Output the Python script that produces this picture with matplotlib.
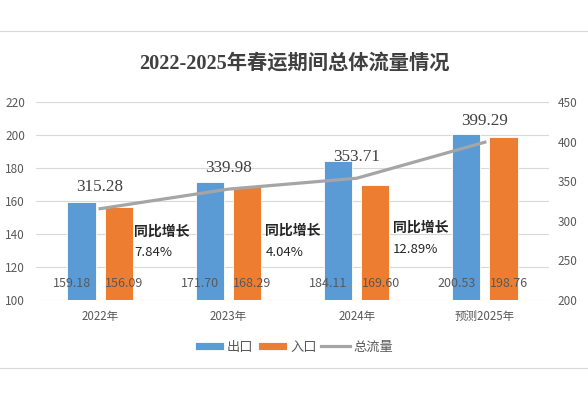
import matplotlib
matplotlib.use('Agg')
import matplotlib.pyplot as plt
import numpy as np
from matplotlib.lines import Line2D

plt.rcParams['font.family'] = ['Noto Sans CJK SC', 'DejaVu Sans']

years = ['2022年', '2023年', '2024年', '预测2025年']
outbound = [159.18, 171.70, 184.11, 200.53]
inbound = [156.09, 168.29, 169.60, 198.76]
total = [315.28, 339.98, 353.71, 399.29]
growth = ['7.84%', '4.04%', '12.89%']

blue = '#5B9BD5'
orange = '#ED7D31'
gray = '#A5A5A5'
text_gray = '#595959'

fig = plt.figure(figsize=(5.88, 4.0), dpi=100)
ax = fig.add_axes([0.0612, 0.25, 0.8725, 0.495])
ax2 = ax.twinx()

x = np.arange(len(years))
w = 0.22
off = 0.145
b1 = ax.bar(x - off, outbound, w, color=blue, edgecolor='white', linewidth=0.6, label='出口', zorder=2)
b2 = ax.bar(x + off, inbound, w, color=orange, edgecolor='white', linewidth=0.6, label='入口', zorder=2)
ln, = ax2.plot(x, total, color=gray, linewidth=2.3, label='总流量', zorder=3)

ax.set_xlim(-0.5, 3.5)
ax.set_ylim(100, 220)
ax.set_yticks(range(100, 221, 20))
ax2.set_ylim(200, 450)
ax2.set_yticks(range(200, 451, 50))
ax.set_xticks(x)
ax.set_xticklabels(years)

for a in (ax, ax2):
    for s in a.spines.values():
        s.set_visible(False)
    a.tick_params(length=0, labelsize=8.5, labelcolor=text_gray)
ax.tick_params(axis='y', pad=8)
ax2.tick_params(axis='y', pad=6)
ax.tick_params(axis='x', labelsize=8.3, pad=7)
ax.yaxis.grid(True, color='#D9D9D9', linewidth=0.8, zorder=0)
ax.set_axisbelow(True)

# bar value labels near the base
for i in range(len(years)):
    ax.annotate(f'{outbound[i]:.2f}', (x[i] - off, 109.7), xytext=(-7, 0), textcoords='offset points',
                ha='center', va='center', fontsize=9, color=text_gray, zorder=4)
    ax.annotate(f'{inbound[i]:.2f}', (x[i] + off, 109.7), xytext=(4, 0), textcoords='offset points',
                ha='center', va='center', fontsize=9, color=text_gray, zorder=4)

# total labels above line points
for i, v in enumerate(total):
    ax2.annotate(f'{v:.2f}', (x[i], v), xytext=(0, 15.5), textcoords='offset points',
                 ha='center', va='center', fontsize=12.3, color='#404040',
                 family=['Liberation Serif', 'Noto Sans CJK SC'], zorder=5)

# growth notes
note_x = [0.264, 1.288, 2.285]
note_y1 = [141.5, 142.0, 143.8]
note_y2 = [128.5, 129.0, 130.5]
for i, g in enumerate(growth):
    ax.text(note_x[i], note_y1[i], '同比增长', ha='left', va='center', fontsize=10,
            color='#262626', fontweight='bold', zorder=5)
    ax.text(note_x[i], note_y2[i], g, ha='left', va='center', fontsize=9.5,
            color='#262626', zorder=5)

fig.text(0.5, 0.84, '2022-2025年春运期间总体流量情况', ha='center', va='center',
         fontsize=14.6, fontweight='bold', color='#404040',
         family=['Liberation Serif', 'Noto Sans CJK SC'])

fig.legend(handles=[b1, b2, ln], loc='center', bbox_to_anchor=(0.5, 0.1325), ncol=3,
           frameon=False, fontsize=9.5, labelcolor=text_gray, handlelength=2.2,
           handleheight=0.55, handletextpad=0.25, columnspacing=0.35)

fig.add_artist(Line2D([0, 1], [1 - 31 / 400, 1 - 31 / 400], color='#D9D9D9', linewidth=0.8))
fig.add_artist(Line2D([0, 1], [1 - 368 / 400, 1 - 368 / 400], color='#D9D9D9', linewidth=0.8))

fig.savefig('out.png', dpi=100)
